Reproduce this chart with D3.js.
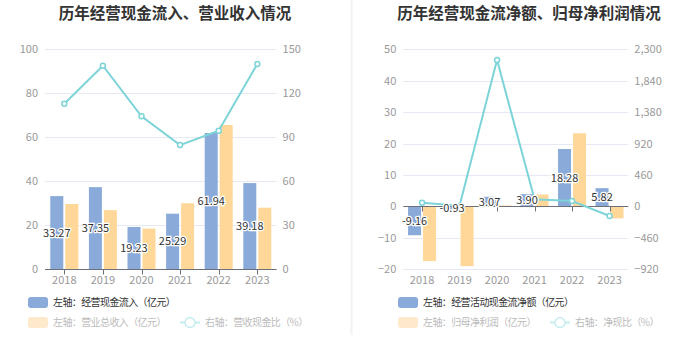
<!DOCTYPE html>
<html><head><meta charset="utf-8">
<script src="https://cdn.jsdelivr.net/npm/d3@7/dist/d3.min.js"></script>
<style>body{margin:0;background:#fff;font-family:"Noto Sans CJK SC","Noto Sans",sans-serif;}</style>
</head><body><svg id="c" width="700" height="360"></svg>
<script>
const years = ["2018","2019","2020","2021","2022","2023"];
// Left chart
const cashIn = [33.27, 37.35, 19.23, 25.29, 61.94, 39.18];
const revenue = [29.7, 26.9, 18.5, 30.0, 65.6, 28.0];
const cashRatio = [112.9, 138.8, 104.3, 84.7, 94.5, 140.0];
const leftTicksL = [0, 20, 40, 60, 80, 100];
const leftTicksR = [0, 30, 60, 90, 120, 150];
// Right chart
const netCash = [-9.16, -0.93, 3.07, 3.90, 18.28, 5.82];
const netProfit = [-17.4, -19.0, 0.3, 3.8, 23.3, -3.8];
const netRatio = [54, 10, 2143, 104, 79, -140];
const rightTicksL = [-20, -10, 0, 10, 20, 30, 40, 50];
const rightTicksR = [-920, -460, 0, 460, 920, 1380, 1840, 2300];

const C_BLUE = "#8aaad9", C_YEL = "#ffd899", C_LINE = "#7dd4d8";
const svg = d3.select("#c");
const FONT = '"Noto Sans CJK SC","Noto Sans",sans-serif';

svg.append("line").attr("x1",351.5).attr("x2",351.5).attr("y1",0).attr("y2",335)
  .attr("stroke","#f2f2f2").attr("stroke-width",2);

function chart(o){
  const g = svg.append("g");
  g.append("text").attr("x",o.cx).attr("y",19).attr("text-anchor","middle")
    .attr("font-size",15.5).attr("font-weight","bold").attr("fill","#333").attr("font-family",FONT).text(o.title);
  const x = d3.scaleBand().domain(years).range([o.x0,o.x1]);
  const yL = d3.scaleLinear().domain(o.dL).range([269.3,49.3]);
  const yR = d3.scaleLinear().domain(o.dR).range([269.3,49.3]);
  // grid
  g.selectAll(".grid").data(o.tL).join("line").attr("x1",o.x0).attr("x2",o.x1)
    .attr("y1",d=>Math.round(yL(d))+0.5).attr("y2",d=>Math.round(yL(d))+0.5).attr("stroke","#e6e9f3").attr("stroke-width",1);
  // axes labels
  const axL = g.append("g").attr("transform",`translate(${o.x0-7},0)`)
    .call(d3.axisLeft(yL).tickValues(o.tL).tickSize(0).tickPadding(0).tickFormat(d3.format(",")));
  const axR = g.append("g").attr("transform",`translate(${o.x1+6},0)`)
    .call(d3.axisRight(yR).tickValues(o.tR).tickSize(0).tickPadding(0).tickFormat(d3.format(",")));
  [axL,axR].forEach(a=>{a.select(".domain").remove();
    a.selectAll("text").attr("fill","#999").attr("font-size",11).attr("font-family",FONT);});
  // bars
  const bw = 13, off = (x.bandwidth()-2*bw-2)/2;
  g.selectAll(".b1").data(o.b1).join("rect")
    .attr("x",(d,i)=>x(years[i])+off).attr("width",bw)
    .attr("y",d=>yL(Math.max(0,d))).attr("height",d=>Math.abs(yL(d)-yL(0))).attr("fill",C_BLUE);
  g.selectAll(".b2").data(o.b2).join("rect")
    .attr("x",(d,i)=>x(years[i])+off+bw+2).attr("width",bw)
    .attr("y",d=>yL(Math.max(0,d))).attr("height",d=>Math.abs(yL(d)-yL(0))).attr("fill",C_YEL);
  // x axis
  const y0 = Math.round(yL(0))+0.5;
  g.append("line").attr("x1",o.x0).attr("x2",o.x1).attr("y1",y0).attr("y2",y0).attr("stroke","#6e7079");
  g.selectAll(".tk").data(years).join("line")
    .attr("x1",d=>Math.round(x(d)+x.bandwidth()/2)+0.5).attr("x2",d=>Math.round(x(d)+x.bandwidth()/2)+0.5)
    .attr("y1",y0).attr("y2",y0+5).attr("stroke","#6e7079");
  g.selectAll(".xl").data(years).join("text").attr("x",d=>x(d)+x.bandwidth()/2).attr("y",284)
    .attr("text-anchor","middle").attr("font-size",11).attr("fill","#999").attr("font-family",FONT).text(d=>d);
  // line
  const pts = o.ln.map((d,i)=>[x(years[i])+x.bandwidth()/2, yR(d)]);
  g.append("path").attr("d",d3.line()(pts)).attr("fill","none").attr("stroke",C_LINE).attr("stroke-width",2);
  g.selectAll(".pt").data(pts).join("circle").attr("cx",d=>d[0]).attr("cy",d=>d[1]).attr("r",2.5)
    .attr("fill","#fff").attr("stroke",C_LINE).attr("stroke-width",1.5);
  // labels
  g.selectAll(".lb").data(o.b1).join("text")
    .attr("x",(d,i)=>x(years[i])+off+bw/2).attr("y",d=>(yL(d)+yL(0))/2+4)
    .attr("text-anchor","middle").attr("font-size",11).attr("fill","#333").attr("font-family",FONT)
    .attr("stroke","#fff").attr("stroke-width",2.5).attr("paint-order","stroke")
    .text(d=>d.toFixed(2));
  // legend
  const lg = g.append("g").attr("font-family",FONT).attr("font-size",10).attr("letter-spacing","-0.6px");
  lg.append("rect").attr("x",o.lx).attr("y",297).attr("width",20).attr("height",11).attr("rx",3).attr("fill",C_BLUE);
  lg.append("text").attr("x",o.lx+25).attr("y",306).attr("fill","#333").text(o.leg[0]);
  lg.append("rect").attr("x",o.lx).attr("y",317).attr("width",20).attr("height",11).attr("rx",3).attr("fill","#fee9cc");
  lg.append("text").attr("x",o.lx+25).attr("y",326).attr("fill","#bbb").text(o.leg[1]);
  lg.append("line").attr("x1",o.lx2).attr("x2",o.lx2+20).attr("y1",322.5).attr("y2",322.5).attr("stroke","#c5ecee").attr("stroke-width",2);
  lg.append("circle").attr("cx",o.lx2+10).attr("cy",322.5).attr("r",5).attr("fill","#fff").attr("stroke","#c5ecee").attr("stroke-width",1.5);
  lg.append("text").attr("x",o.lx2+25).attr("y",326).attr("fill","#bbb").text(o.leg[2]);
}

chart({title:"历年经营现金流入、营业收入情况", cx:175, x0:45, x1:276.6,
  dL:[0,100], dR:[0,150], tL:leftTicksL, tR:leftTicksR,
  b1:cashIn, b2:revenue, ln:cashRatio, lx:28, lx2:180,
  leg:["左轴：经营现金流入（亿元）","左轴：营业总收入（亿元）","右轴：营收现金比（%）"]});
chart({title:"历年经营现金流净额、归母净利润情况", cx:529, x0:403.3, x1:628.3,
  dL:[-20,50], dR:[-920,2300], tL:rightTicksL, tR:rightTicksR,
  b1:netCash, b2:netProfit, ln:netRatio, lx:398, lx2:550,
  leg:["左轴：经营活动现金流净额（亿元）","左轴：归母净利润（亿元）","右轴：净现比（%）"]});
</script></body></html>
